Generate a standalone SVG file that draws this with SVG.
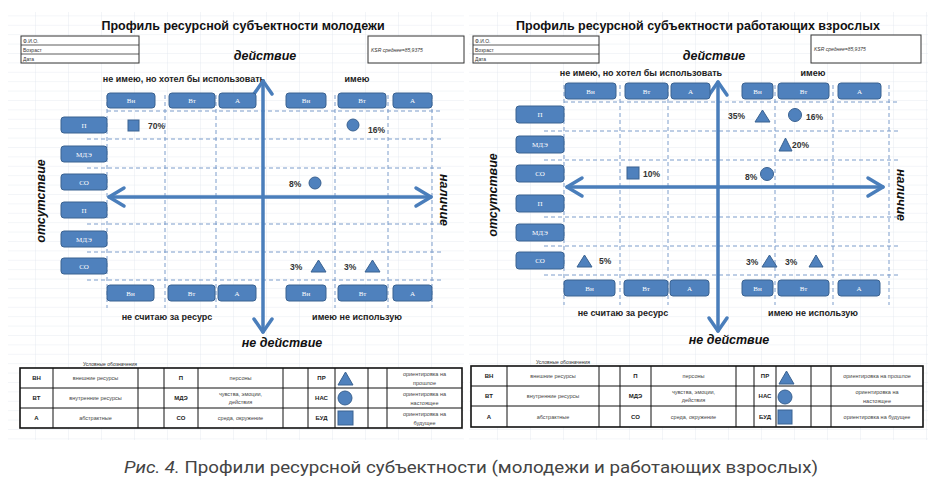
<svg xmlns="http://www.w3.org/2000/svg" width="932" height="480" viewBox="0 0 932 480">
<style>
.btn rect{fill:#4f81bd;stroke:#3a6291;stroke-width:1}
.btn text{fill:#ffffff;font-family:"Liberation Serif",serif;font-size:7px;text-anchor:middle}
.dash{stroke:#7c9dcb;stroke-width:1;stroke-dasharray:4 3;fill:none}
.axis{stroke:#4a7ebb;stroke-width:3.5;fill:none;stroke-linecap:round;stroke-linejoin:round}
.sym{fill:#4f81bd;stroke:#3a6291;stroke-width:1}
.title{font-family:"Liberation Sans",Arial,sans-serif;font-weight:bold;font-size:12.5px;fill:#111;text-anchor:middle}
.act{font-family:"Liberation Sans",Arial,sans-serif;font-weight:bold;font-style:italic;font-size:12.5px;fill:#111;text-anchor:middle}
.quad{font-family:"Liberation Sans",Arial,sans-serif;font-weight:bold;font-size:9px;fill:#222;text-anchor:middle}
.pct{font-family:"Liberation Sans",Arial,sans-serif;font-weight:bold;font-size:8.5px;fill:#333}
.tiny{font-family:"Liberation Sans",Arial,sans-serif;font-size:5px;fill:#333}
.tinyi{font-family:"Liberation Sans",Arial,sans-serif;font-size:5px;font-style:italic;fill:#333}
.lg{font-family:"Liberation Sans",Arial,sans-serif;font-size:5.5px;fill:#444;text-anchor:middle}
.lgb{font-family:"Liberation Sans",Arial,sans-serif;font-size:6px;font-weight:bold;fill:#222;text-anchor:middle}
.cell{fill:none;stroke:#111;stroke-width:1}
.box{fill:#fff;stroke:#333;stroke-width:1}
</style>
<defs>
<pattern id="grid" patternUnits="userSpaceOnUse" x="2" y="6" width="33" height="9.4">
<rect width="33" height="9.4" fill="#ffffff"/>
<path d="M0,0 H33 M0,0 V9.4" stroke="#dde3eb" stroke-width="0.7" fill="none"/>
</pattern>
</defs>
<rect width="932" height="480" fill="#ffffff"/>
<rect x="8" y="12" width="456" height="428" fill="url(#grid)"/>
<rect x="469" y="12" width="459" height="428" fill="url(#grid)"/>

<!-- ================= LEFT PANEL ================= -->
<g id="left-panel">
<text class="title" x="243" y="30" font-size="12">Профиль ресурсной субъектности молодежи</text>
<g id="L-info">
<rect class="box" x="21" y="36" width="118" height="27"/>
<line x1="21" y1="45" x2="139" y2="45" stroke="#333" stroke-width="0.8"/>
<line x1="21" y1="54" x2="139" y2="54" stroke="#333" stroke-width="0.8"/>
<text class="tiny" x="23" y="43">Ф.И.О.</text>
<text class="tiny" x="23" y="52">Возраст</text>
<text class="tiny" x="23" y="61">Дата</text>
</g>
<g id="L-ksr">
<rect class="box" x="368" y="36" width="96" height="27"/>
<text class="tinyi" x="371" y="52">KSR  среднее=85,9375</text>
</g>
<text class="act" x="265" y="60">действие</text>
<text class="act" x="282" y="347">не действие</text>
<text class="quad" x="184" y="82">не имею, но хотел бы использовать</text>
<text class="quad" x="357" y="82">имею</text>
<text class="quad" x="167" y="320">не считаю за ресурс</text>
<text class="quad" x="357" y="320">имею не использую</text>
<text class="act" transform="translate(45,201) rotate(-90)">отсутствие</text>
<text class="act" transform="translate(440,200) rotate(90)">наличие</text>

<g id="L-grid-dashes">
<line class="dash" x1="107" y1="111" x2="442" y2="111"/>
<line class="dash" x1="87" y1="139" x2="442" y2="139"/>
<line class="dash" x1="87" y1="168" x2="442" y2="168"/>
<line class="dash" x1="87" y1="224" x2="442" y2="224"/>
<line class="dash" x1="87" y1="252" x2="442" y2="252"/>
<line class="dash" x1="87" y1="280" x2="442" y2="280"/>
<line class="dash" x1="107" y1="95" x2="107" y2="308"/>
<line class="dash" x1="165" y1="95" x2="165" y2="308"/>
<line class="dash" x1="216" y1="95" x2="216" y2="308"/>
<line class="dash" x1="335" y1="95" x2="335" y2="308"/>
<line class="dash" x1="388" y1="95" x2="388" y2="308"/>
<line class="dash" x1="432" y1="95" x2="432" y2="308"/>
</g>

<g id="L-connectors">
<line class="axis" x1="263" y1="81" x2="263" y2="332"/>
<polyline class="axis" points="254,94 263,81 272,94"/>
<polyline class="axis" points="254,319 263,332 272,319"/>
<line class="axis" x1="109" y1="197" x2="431" y2="197"/>
<polyline class="axis" points="124,188 109,197 124,206"/>
<polyline class="axis" points="416,188 431,197 416,206"/>
</g>

<g id="L-top-vn1" class="btn"><rect x="107" y="93" width="48" height="15" rx="3"/><text x="131" y="103">Вн</text></g>
<g id="L-top-vt1" class="btn"><rect x="169" y="93" width="46" height="15" rx="3"/><text x="192" y="103">Вт</text></g>
<g id="L-top-a1" class="btn"><rect x="219" y="93" width="37" height="15" rx="3"/><text x="237.5" y="103">А</text></g>
<g id="L-top-vn2" class="btn"><rect x="286" y="93" width="40" height="15" rx="3"/><text x="306" y="103">Вн</text></g>
<g id="L-top-vt2" class="btn"><rect x="338" y="93" width="48" height="15" rx="3"/><text x="362" y="103">Вт</text></g>
<g id="L-top-a2" class="btn"><rect x="393" y="93" width="39" height="15" rx="3"/><text x="412.5" y="103">А</text></g>

<g id="L-bot-vn1" class="btn"><rect x="107" y="285" width="47" height="16" rx="3"/><text x="130.5" y="295.5">Вн</text></g>
<g id="L-bot-vt1" class="btn"><rect x="168" y="285" width="47" height="16" rx="3"/><text x="191.5" y="295.5">Вт</text></g>
<g id="L-bot-a1" class="btn"><rect x="218" y="285" width="38" height="16" rx="3"/><text x="237" y="295.5">А</text></g>
<g id="L-bot-vn2" class="btn"><rect x="286" y="285" width="40" height="16" rx="3"/><text x="306" y="295.5">Вн</text></g>
<g id="L-bot-vt2" class="btn"><rect x="338" y="285" width="49" height="16" rx="3"/><text x="362.5" y="295.5">Вт</text></g>
<g id="L-bot-a2" class="btn"><rect x="393" y="285" width="39" height="16" rx="3"/><text x="412.5" y="295.5">А</text></g>

<g id="L-side-p1" class="btn"><rect x="61" y="117" width="46" height="16" rx="3"/><text x="84" y="127.5">П</text></g>
<g id="L-side-mde1" class="btn"><rect x="61" y="146" width="46" height="16" rx="3"/><text x="84" y="156.5">МДЭ</text></g>
<g id="L-side-so1" class="btn"><rect x="61" y="174" width="46" height="16" rx="3"/><text x="84" y="184.5">СО</text></g>
<g id="L-side-p2" class="btn"><rect x="61" y="202" width="46" height="16" rx="3"/><text x="84" y="212.5">П</text></g>
<g id="L-side-mde2" class="btn"><rect x="61" y="231" width="46" height="16" rx="3"/><text x="84" y="241.5">МДЭ</text></g>
<g id="L-side-so2" class="btn"><rect x="61" y="258" width="46" height="16" rx="3"/><text x="84" y="268.5">СО</text></g>

<g id="L-mark-70">
<rect class="sym" x="128" y="120" width="11" height="11"/>
<text class="pct" x="148" y="129">70%</text>
</g>
<g id="L-mark-16">
<circle class="sym" cx="353" cy="125" r="6"/>
<text class="pct" x="368" y="133">16%</text>
</g>
<g id="L-mark-8">
<text class="pct" x="289" y="187">8%</text>
<circle class="sym" cx="315" cy="183" r="6"/>
</g>
<g id="L-mark-3a">
<text class="pct" x="290" y="270">3%</text>
<polygon class="sym" points="318.5,260 311,272 326,272"/>
</g>
<g id="L-mark-3b">
<text class="pct" x="344" y="270">3%</text>
<polygon class="sym" points="372.5,260 365,272 380,272"/>
</g>

<g id="L-legend">
<text class="tiny" x="110" y="366" text-anchor="middle">Условные обозначения</text>
<rect x="20" y="368" width="442" height="60" fill="#fff" stroke="#111" stroke-width="1.6"/>
<path class="cell" d="M20,388 H462 M20,408 H462 M53,368 V428 M138,368 V428 M164,368 V428 M198,368 V428 M283,368 V428 M308,368 V428 M335,368 V428 M368,368 V428 M387,368 V428"/>
<text class="lgb" x="36.5" y="380">ВН</text>
<text class="lgb" x="36.5" y="400">ВТ</text>
<text class="lgb" x="36.5" y="420">А</text>
<text class="lg" x="95.5" y="380">внешние ресурсы</text>
<text class="lg" x="95.5" y="400">внутренние ресурсы</text>
<text class="lg" x="95.5" y="420">абстрактные</text>
<text class="lgb" x="181" y="380">П</text>
<text class="lgb" x="181" y="400">МДЭ</text>
<text class="lgb" x="181" y="420">СО</text>
<text class="lg" x="240.5" y="380">персоны</text>
<text class="lg" x="240.5" y="396">чувства, эмоции,</text>
<text class="lg" x="240.5" y="404">действия</text>
<text class="lg" x="240.5" y="420">среда, окружение</text>
<text class="lgb" x="321.5" y="380">ПР</text>
<text class="lgb" x="321.5" y="400">НАС</text>
<text class="lgb" x="321.5" y="420">БУД</text>
<polygon class="sym" points="345.5,372 338,385 353,385"/>
<circle class="sym" cx="345" cy="398" r="7"/>
<rect class="sym" x="338" y="411" width="15" height="14"/>
<text class="lg" x="424.5" y="376">ориентировка на</text>
<text class="lg" x="424.5" y="385">прошлое</text>
<text class="lg" x="424.5" y="396">ориентировка на</text>
<text class="lg" x="424.5" y="405">настоящее</text>
<text class="lg" x="424.5" y="416">ориентировка на</text>
<text class="lg" x="424.5" y="425">будущее</text>
</g>
</g>

<!-- ================= RIGHT PANEL ================= -->
<g id="right-panel">
<text class="title" x="698" y="30">Профиль ресурсной субъектности работающих взрослых</text>
<g id="R-info">
<rect class="box" x="473" y="36" width="126" height="27"/>
<line x1="473" y1="45" x2="599" y2="45" stroke="#333" stroke-width="0.8"/>
<line x1="473" y1="54" x2="599" y2="54" stroke="#333" stroke-width="0.8"/>
<text class="tiny" x="475" y="43">Ф.И.О.</text>
<text class="tiny" x="475" y="52">Возраст</text>
<text class="tiny" x="475" y="61">Дата</text>
</g>
<g id="R-ksr">
<rect class="box" x="811" y="35" width="110" height="28"/>
<text class="tinyi" x="814" y="51">KSR  среднее=85,9375</text>
</g>
<text class="act" x="714" y="60">действие</text>
<text class="act" x="729" y="344">не действие</text>
<text class="quad" x="641" y="76">не имею, но хотел бы использовать</text>
<text class="quad" x="813" y="76">имею</text>
<text class="quad" x="623" y="316">не считаю за ресурс</text>
<text class="quad" x="813" y="316">имею не использую</text>
<text class="act" transform="translate(497,195) rotate(-90)">отсутствие</text>
<text class="act" transform="translate(897,195) rotate(90)">наличие</text>

<g id="R-grid-dashes">
<line class="dash" x1="564" y1="102" x2="898" y2="102"/>
<line class="dash" x1="544" y1="131" x2="898" y2="131"/>
<line class="dash" x1="544" y1="160" x2="898" y2="160"/>
<line class="dash" x1="544" y1="217" x2="898" y2="217"/>
<line class="dash" x1="544" y1="246" x2="898" y2="246"/>
<line class="dash" x1="544" y1="275" x2="898" y2="275"/>
<line class="dash" x1="564" y1="85" x2="564" y2="305"/>
<line class="dash" x1="620" y1="85" x2="620" y2="305"/>
<line class="dash" x1="668" y1="85" x2="668" y2="305"/>
<line class="dash" x1="775" y1="85" x2="775" y2="305"/>
<line class="dash" x1="833" y1="85" x2="833" y2="305"/>
<line class="dash" x1="889" y1="85" x2="889" y2="305"/>
</g>

<g id="R-connectors">
<line class="axis" x1="718" y1="82" x2="718" y2="331"/>
<polyline class="axis" points="709,95 718,82 727,95"/>
<polyline class="axis" points="709,318 718,331 727,318"/>
<line class="axis" x1="567" y1="187" x2="883" y2="187"/>
<polyline class="axis" points="582,178 567,187 582,196"/>
<polyline class="axis" points="868,178 883,187 868,196"/>
</g>

<g id="R-top-vn1" class="btn"><rect x="565" y="83" width="51" height="16" rx="3"/><text x="590.5" y="93.5">Вн</text></g>
<g id="R-top-vt1" class="btn"><rect x="625" y="83" width="43" height="16" rx="3"/><text x="646.5" y="93.5">Вт</text></g>
<g id="R-top-a1" class="btn"><rect x="671" y="83" width="39" height="16" rx="3"/><text x="690.5" y="93.5">А</text></g>
<g id="R-top-vn2" class="btn"><rect x="742" y="83" width="31" height="16" rx="3"/><text x="757.5" y="93.5">Вн</text></g>
<g id="R-top-vt2" class="btn"><rect x="778" y="83" width="51" height="16" rx="3"/><text x="803.5" y="93.5">Вт</text></g>
<g id="R-top-a2" class="btn"><rect x="838" y="83" width="43" height="16" rx="3"/><text x="859.5" y="93.5">А</text></g>

<g id="R-bot-vn1" class="btn"><rect x="564" y="280" width="51" height="16" rx="3"/><text x="589.5" y="290.5">Вн</text></g>
<g id="R-bot-vt1" class="btn"><rect x="624" y="280" width="44" height="16" rx="3"/><text x="646" y="290.5">Вт</text></g>
<g id="R-bot-a1" class="btn"><rect x="670" y="280" width="39" height="16" rx="3"/><text x="689.5" y="290.5">А</text></g>
<g id="R-bot-vn2" class="btn"><rect x="742" y="280" width="31" height="16" rx="3"/><text x="757.5" y="290.5">Вн</text></g>
<g id="R-bot-vt2" class="btn"><rect x="778" y="280" width="51" height="16" rx="3"/><text x="803.5" y="290.5">Вт</text></g>
<g id="R-bot-a2" class="btn"><rect x="838" y="280" width="42" height="16" rx="3"/><text x="859" y="290.5">А</text></g>

<g id="R-side-p1" class="btn"><rect x="516" y="106" width="48" height="17" rx="3"/><text x="540" y="117">П</text></g>
<g id="R-side-mde1" class="btn"><rect x="516" y="136" width="48" height="17" rx="3"/><text x="540" y="147">МДЭ</text></g>
<g id="R-side-so1" class="btn"><rect x="516" y="165" width="48" height="17" rx="3"/><text x="540" y="176">СО</text></g>
<g id="R-side-p2" class="btn"><rect x="516" y="195" width="48" height="17" rx="3"/><text x="540" y="206">П</text></g>
<g id="R-side-mde2" class="btn"><rect x="516" y="224" width="48" height="17" rx="3"/><text x="540" y="235">МДЭ</text></g>
<g id="R-side-so2" class="btn"><rect x="516" y="252" width="48" height="17" rx="3"/><text x="540" y="263">СО</text></g>

<g id="R-mark-35">
<text class="pct" x="728" y="119">35%</text>
<polygon class="sym" points="762.5,110 755,122 770,122"/>
</g>
<g id="R-mark-16">
<circle class="sym" cx="795" cy="115" r="6.5"/>
<text class="pct" x="806" y="120">16%</text>
</g>
<g id="R-mark-20">
<polygon class="sym" points="785.5,138 779,151 792,151"/>
<text class="pct" x="792" y="148">20%</text>
</g>
<g id="R-mark-10">
<rect class="sym" x="627" y="167" width="12" height="12"/>
<text class="pct" x="643" y="177">10%</text>
</g>
<g id="R-mark-8">
<text class="pct" x="745" y="180">8%</text>
<circle class="sym" cx="767" cy="174" r="6.5"/>
</g>
<g id="R-mark-5">
<polygon class="sym" points="584.5,255 577,267 592,267"/>
<text class="pct" x="599" y="264">5%</text>
</g>
<g id="R-mark-3a">
<text class="pct" x="746" y="265">3%</text>
<polygon class="sym" points="769.5,255 762,267 777,267"/>
</g>
<g id="R-mark-3b">
<text class="pct" x="785" y="265">3%</text>
<polygon class="sym" points="816,255 809,267 823,267"/>
</g>

<g id="R-legend">
<text class="tiny" x="563" y="364" text-anchor="middle">Условные обозначения</text>
<rect x="471" y="366" width="452" height="61" fill="#fff" stroke="#111" stroke-width="1.6"/>
<path class="cell" d="M471,386 H923 M471,406 H923 M507,366 V427 M599,366 V427 M620,366 V427 M651,366 V427 M736,366 V427 M754,366 V427 M776,366 V427 M811,366 V427 M831,366 V427"/>
<text class="lgb" x="489" y="378">ВН</text>
<text class="lgb" x="489" y="398">ВТ</text>
<text class="lgb" x="489" y="419">А</text>
<text class="lg" x="553" y="378">внешние ресурсы</text>
<text class="lg" x="553" y="398">внутренние ресурсы</text>
<text class="lg" x="553" y="419">абстрактные</text>
<text class="lgb" x="635.5" y="378">П</text>
<text class="lgb" x="635.5" y="398">МДЭ</text>
<text class="lgb" x="635.5" y="419">СО</text>
<text class="lg" x="693.5" y="378">персоны</text>
<text class="lg" x="693.5" y="394">чувства, эмоции,</text>
<text class="lg" x="693.5" y="402">действия</text>
<text class="lg" x="693.5" y="419">среда, окружение</text>
<text class="lgb" x="765" y="378">ПР</text>
<text class="lgb" x="765" y="398">НАС</text>
<text class="lgb" x="765" y="419">БУД</text>
<polygon class="sym" points="786.5,371 779,384 794,384"/>
<circle class="sym" cx="785" cy="397" r="7"/>
<rect class="sym" x="778" y="410" width="14" height="14"/>
<text class="lg" x="877" y="378">ориентировка на прошлое</text>
<text class="lg" x="877" y="394">ориентировка на</text>
<text class="lg" x="877" y="403">настоящее</text>
<text class="lg" x="877" y="419">ориентировка на будущее</text>
</g>
</g>

<text id="caption" x="471" y="473" text-anchor="middle" font-family="Roboto, 'Liberation Sans', sans-serif" font-size="17" fill="#444444" textLength="694" lengthAdjust="spacingAndGlyphs"><tspan font-style="italic">Рис. 4.</tspan> Профили ресурсной субъектности (молодежи и работающих взрослых)</text>
</svg>
